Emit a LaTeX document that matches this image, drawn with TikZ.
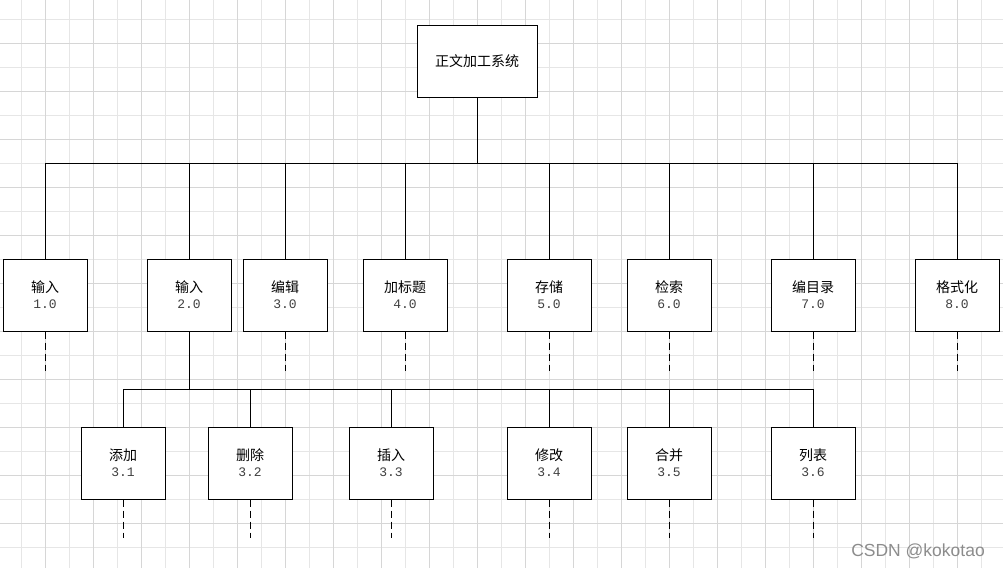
\documentclass[tikz,border=0pt]{standalone}
\usepackage{fontspec}
\newfontfamily\cjk{Noto Sans CJK SC}
\newfontfamily\cifre{Liberation Mono}
\newfontfamily\firma{Liberation Sans}
\newcommand{\etichetta}[2]{#1\\{\cifre\fontsize{13}{16}\selectfont\color{black!75}#2}}
\definecolor{grigliachiara}{HTML}{E6E6E6}
\definecolor{grigliascura}{HTML}{D6D6D6}
\tikzset{
  modulo/.style={draw,fill=white,line width=1pt,minimum width=84pt,minimum height=72pt,
    inner sep=0pt,align=center,font=\cjk\fontsize{14}{16}\selectfont},
  linea/.style={line width=1pt},
  tratteggio/.style={line width=1pt,dash pattern=on 7pt off 4pt},
}

\begin{document}
\begin{tikzpicture}[x=1pt,y=-1pt]
\useasboundingbox (0,0) rectangle (1003,568);

% griglia
\foreach \x in {21.5,69.5,...,1003} \draw[grigliachiara,line width=1pt] (\x,0) -- (\x,568);
\foreach \y in {19.5,67.5,...,568} \draw[grigliachiara,line width=1pt] (0,\y) -- (1003,\y);
\foreach \x in {45.5,93.5,...,1003} \draw[grigliascura,line width=1pt] (\x,0) -- (\x,568);
\foreach \y in {43.5,91.5,...,568} \draw[grigliascura,line width=1pt] (0,\y) -- (1003,\y);

% radice
\node[modulo,minimum width=120pt] (radice) at (477,61) {正文加工系统};
\coordinate (bus) at (477,163);

% primo livello
\foreach \xc/\nome/\testo/\num in {45/m1/输入/1.0,189/m2/输入/2.0,285/m3/编辑/3.0,
  405/m4/加标题/4.0,549/m5/存储/5.0,669/m6/检索/6.0,813/m7/编目录/7.0,957/m8/格式化/8.0}
{
  \node[modulo] (\nome) at (\xc,295) {\etichetta{\testo}{\num}};
  \draw[linea] (radice.south) -- (radice.south |- bus) -| (\nome.north);
}
\foreach \nome in {m1,m3,m4,m5,m6,m7,m8}
  \draw[tratteggio] (\nome.south) -- ++(0,39);

% secondo livello
\coordinate (bus2) at (189,389);
\foreach \xc/\nome/\testo/\num in {123/s1/添加/3.1,250/s2/删除/3.2,391/s3/插入/3.3,
  549/s4/修改/3.4,669/s5/合并/3.5,813/s6/列表/3.6}
{
  \node[modulo] (\nome) at (\xc,463) {\etichetta{\testo}{\num}};
  \draw[linea] (m2.south) -- (m2.south |- bus2) -| (\nome.north);
  \draw[tratteggio] (\nome.south) -- ++(0,38);
}

\node[font=\firma\fontsize{17.5}{20}\selectfont,text=black!45] (firma) at (918,551) {CSDN @kokotao};

\end{tikzpicture}
\end{document}
